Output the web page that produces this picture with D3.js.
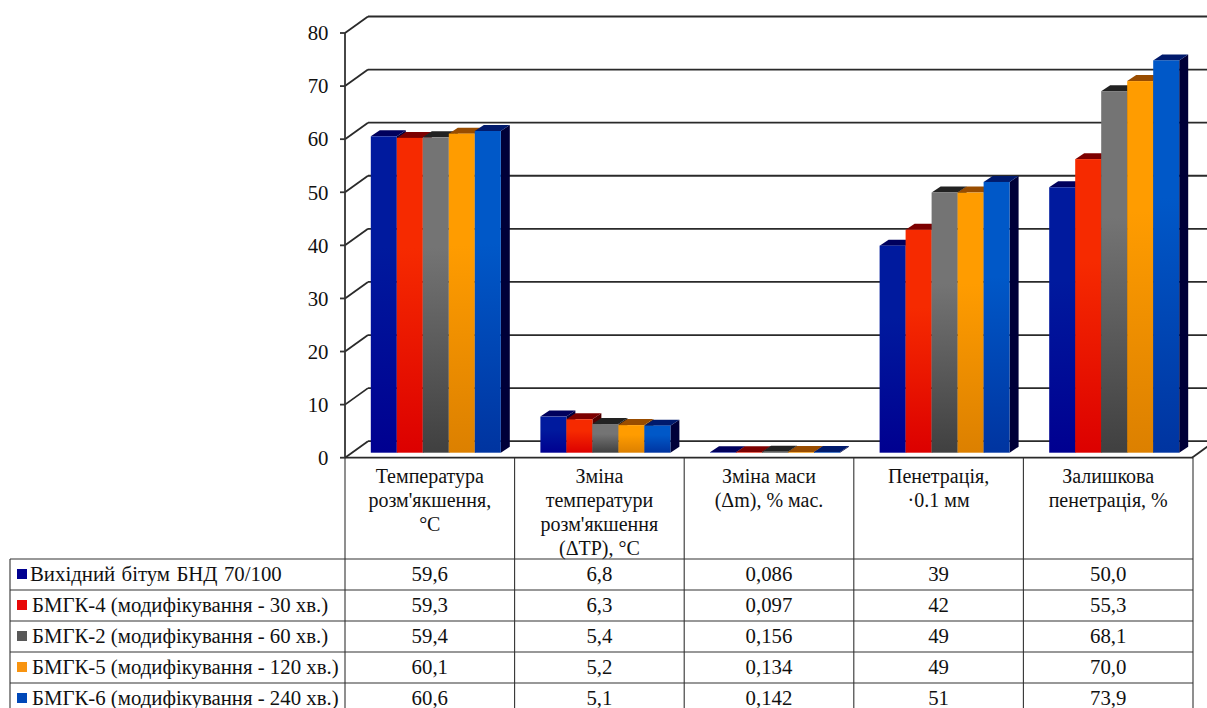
<!DOCTYPE html>
<html>
<head>
<meta charset="utf-8">
<script src="https://cdn.jsdelivr.net/npm/d3@7"></script>
<style>
html,body{margin:0;padding:0;background:#fff;overflow:hidden}
svg{display:block}
text{font-family:"Liberation Serif","Times New Roman",serif;fill:#111}
</style>
</head>
<body>
<svg id="chart" width="1207" height="708"></svg>
<script>
// Bitumen property measurements grouped by test
const categories = [
  ["Температура", "розм'якшення,", "°C"],
  ["Зміна", "температури", "розм'якшення", "(ΔTP), °C"],
  ["Зміна маси", "(Δm), % мас."],
  ["Пенетрація,", "·0.1 мм"],
  ["Залишкова", "пенетрація, %"]
];
const seriesNames = [
  "Вихідний бітум БНД 70/100",
  "БМГК-4 (модифікування - 30 хв.)",
  "БМГК-2 (модифікування - 60 хв.)",
  "БМГК-5 (модифікування - 120 хв.)",
  "БМГК-6 (модифікування - 240 хв.)"
];
const valuesBase = [59.6, 6.8, 0.086, 39, 50.0];
const valuesB4 = [59.3, 6.3, 0.097, 42, 55.3];
const valuesB2 = [59.4, 5.4, 0.156, 49, 68.1];
const valuesB5 = [60.1, 5.2, 0.134, 49, 70.0];
const valuesB6 = [60.6, 5.1, 0.142, 51, 73.9];
const tableBase = ["59,6", "6,8", "0,086", "39", "50,0"];
const tableB4 = ["59,3", "6,3", "0,097", "42", "55,3"];
const tableB2 = ["59,4", "5,4", "0,156", "49", "68,1"];
const tableB5 = ["60,1", "5,2", "0,134", "49", "70,0"];
const tableB6 = ["60,6", "5,1", "0,142", "51", "73,9"];
const yTicks = [0, 10, 20, 30, 40, 50, 60, 70, 80];

const seriesValues = [valuesBase, valuesB4, valuesB2, valuesB5, valuesB6];
const tableRows = [tableBase, tableB4, tableB2, tableB5, tableB6];

// Per-series shading: front gradient (top, bottom), lid and side colours
const palette = [
  {top: "#001a9e", bottom: "#000090", lid: "#00005c", side: "#000040", key: "#000090"},
  {top: "#f62a00", bottom: "#dc0000", lid: "#7c0000", side: "#500000", key: "#e80808"},
  {top: "#747474", bottom: "#404040", lid: "#222222", side: "#1c1c1c", key: "#585858"},
  {top: "#ff9c00", bottom: "#dc8000", lid: "#984c00", side: "#6a3800", key: "#f89410"},
  {top: "#0058c8", bottom: "#0034a0", lid: "#001a6c", side: "#000038", key: "#0048b8"}
];

const svg = d3.select("#chart");
const clipEdge = 1207;

// Plot geometry
const y = d3.scaleLinear().domain([0, 80]).range([457.7, 33]);
const wall = {dx: 23, dy: -16.5};
const lid = {dx: 9, dy: -6};
const barFloorLift = 5;
const tableLeft = 345;
const colWidth = 169.6;
const x = d3.scaleBand().domain(d3.range(categories.length))
  .range([tableLeft, tableLeft + colWidth * categories.length]);
const inner = d3.scaleBand().domain(d3.range(seriesNames.length))
  .range([25.8, 25.8 + 26 * seriesNames.length]);

const defs = svg.append("defs");
palette.forEach((p, i) => {
  const g = defs.append("linearGradient").attr("id", "front" + i)
    .attr("x1", 0).attr("y1", 0).attr("x2", 0).attr("y2", 1);
  g.append("stop").attr("offset", "0%").attr("stop-color", p.top);
  g.append("stop").attr("offset", "35%").attr("stop-color", p.top);
  g.append("stop").attr("offset", "100%").attr("stop-color", p.bottom);
});

// Back wall gridlines and their diagonal links to the axis
const grid = svg.append("g").attr("stroke", "#2a2a2a").attr("stroke-width", 1.8).attr("fill", "none");
yTicks.forEach(t => {
  const yy = y(t);
  grid.append("line").attr("x1", tableLeft + wall.dx).attr("x2", clipEdge)
    .attr("y1", yy + wall.dy).attr("y2", yy + wall.dy);
  grid.append("line").attr("x1", tableLeft).attr("x2", tableLeft + wall.dx)
    .attr("y1", yy).attr("y2", yy + wall.dy);
});
const tableRight = tableLeft + colWidth * categories.length;
grid.append("line").attr("x1", tableRight - 1).attr("y1", y(0))
  .attr("x2", tableRight - 1 + wall.dx).attr("y2", y(0) + wall.dy);

// Value axis
const axis = svg.append("g").attr("stroke", "#333").attr("stroke-width", 1.8);
axis.append("line").attr("x1", tableLeft).attr("x2", tableLeft).attr("y1", y(80)).attr("y2", y(0));
yTicks.forEach(t => {
  axis.append("line").attr("x1", tableLeft - 5).attr("x2", tableLeft)
    .attr("y1", y(t)).attr("y2", y(t));
});
svg.append("g").selectAll("text").data(yTicks).join("text")
  .attr("x", 328.5).attr("y", d => y(d) + 7.3)
  .attr("text-anchor", "end").attr("font-size", 20.8)
  .text(d => d);

// 3-D bars, painted left to right so each front hides its neighbour's side
const bars = svg.append("g");
categories.forEach((_, c) => {
  seriesNames.forEach((_, s) => {
    const v = seriesValues[s][c];
    const x0 = x(c) + inner(s);
    const w = inner.bandwidth();
    const yb = y(0) - barFloorLift;
    const yt = y(v) - barFloorLift;
    const poly = pts => pts.map(p => p.join(",")).join(" ");
    bars.append("polygon").attr("fill", palette[s].side)
      .attr("points", poly([[x0 + w, yt], [x0 + w + lid.dx, yt + lid.dy], [x0 + w + lid.dx, yb + lid.dy], [x0 + w, yb]]));
    bars.append("polygon").attr("fill", palette[s].lid)
      .attr("points", poly([[x0, yt], [x0 + lid.dx, yt + lid.dy], [x0 + w + lid.dx, yt + lid.dy], [x0 + w, yt]]));
    bars.append("rect").attr("x", x0).attr("y", yt).attr("width", w).attr("height", yb - yt)
      .attr("fill", `url(#front${s})`);
  });
});

// Data table beneath the plot
const headerBottom = 559;
const rowHeight = 31;
const legendLeft = 10;
const rowY = d3.range(tableRows.length + 1).map(i => headerBottom + i * rowHeight);
const rules = svg.append("g").attr("stroke", "#333").attr("stroke-width", 1.1).attr("fill", "none");
rules.append("line").attr("x1", tableLeft).attr("x2", tableRight).attr("y1", y(0)).attr("y2", y(0))
  .attr("stroke", "#2a2a2a").attr("stroke-width", 1.8);
d3.range(categories.length + 1).forEach(i => {
  const xx = tableLeft + i * colWidth;
  rules.append("line").attr("x1", xx).attr("x2", xx).attr("y1", y(0)).attr("y2", 708);
});
rules.append("line").attr("x1", legendLeft).attr("x2", legendLeft).attr("y1", headerBottom).attr("y2", 708);
rowY.forEach(yy => {
  rules.append("line").attr("x1", legendLeft).attr("x2", tableRight).attr("y1", yy).attr("y2", yy);
});

const colCentre = c => x(c) + x.bandwidth() / 2;
const headers = svg.append("g").attr("text-anchor", "middle").attr("font-size", 20);
categories.forEach((lines, c) => {
  lines.forEach((line, i) => {
    headers.append("text").attr("x", colCentre(c)).attr("y", 483 + i * 24).text(line);
  });
});

const cells = svg.append("g").attr("text-anchor", "middle").attr("font-size", 20.8);
tableRows.forEach((row, r) => {
  row.forEach((cell, c) => {
    cells.append("text").attr("x", colCentre(c)).attr("y", rowY[r] + 22).text(cell);
  });
});

// Legend keys and series names in the first table column
const legend = svg.append("g");
seriesNames.forEach((name, r) => {
  legend.append("rect").attr("x", 17).attr("y", rowY[r] + 10).attr("width", 10).attr("height", 10)
    .attr("fill", palette[r].key);
  legend.append("text").attr("x", r === 0 ? 30 : 32).attr("y", rowY[r] + 22)
    .attr("font-size", 20.8).attr("word-spacing", r === 0 ? 1.2 : 0).text(name);
});
</script>
</body>
</html>
